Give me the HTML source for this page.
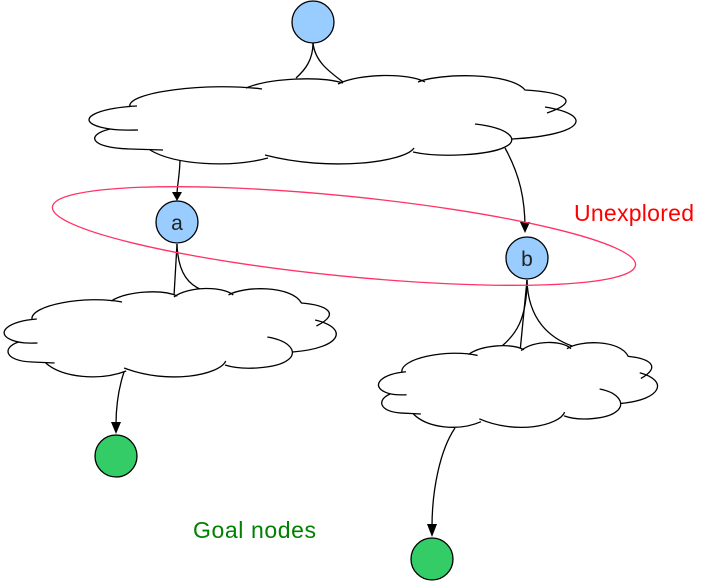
<!DOCTYPE html>
<html><head><style>
html,body{margin:0;padding:0;background:#fff;width:707px;height:582px;overflow:hidden}
svg{display:block}
text{font-family:"Liberation Sans",sans-serif}
</style></head><body>
<svg width="707" height="582" viewBox="0 0 707 582" xmlns="http://www.w3.org/2000/svg">
<defs>
<g id="cloud">
<path fill="#fff" stroke="none" d="M137,106 C125,92 210,82 262,89 C270,78 320,76 343,83 C360,73 410,73 425,82 C440,73 510,72 525,90 C560,92 585,100 547,113 C595,115 585,135 512,139 C520,140 505,150 413,152 C405,162 330,172 265,155 C230,168 175,165 150,150 C120,152 85,143 100,130 C75,120 95,108 137,106 Z"/>
<g fill="none" stroke="#000" stroke-width="1.3">
<path vector-effect="non-scaling-stroke" d="M130,107 C125,92 210,82 262,89"/>
<path vector-effect="non-scaling-stroke" d="M246,88 C270,78 320,76 343,83"/>
<path vector-effect="non-scaling-stroke" d="M338,84 C360,73 410,73 425,82"/>
<path vector-effect="non-scaling-stroke" d="M418,82 C440,73 510,72 525,90 C560,92 585,100 547,113"/>
<path vector-effect="non-scaling-stroke" d="M545,107 C595,115 585,135 512,139"/>
<path vector-effect="non-scaling-stroke" d="M475,124 C510,128 520,140 505,147 C490,155 440,158 413,152"/>
<path vector-effect="non-scaling-stroke" d="M414,148 C405,162 330,172 265,155"/>
<path vector-effect="non-scaling-stroke" d="M268,158 C230,168 175,165 150,150"/>
<path vector-effect="non-scaling-stroke" d="M137,106 C95,108 75,120 100,127 C115,131 130,130 138,130"/>
<path vector-effect="non-scaling-stroke" d="M110,129 C85,135 90,148 130,149 L163,150"/>
</g>
</g>
</defs>

<g fill="none" stroke="#000" stroke-width="1.3">
<path d="M313,43 C313,60 305,70 296,78"/>
<path d="M313,43 C315,62 330,72 343,82"/>
<path d="M180,158 C180,175 177,185 177,195"/>
<path d="M505,148 C520,175 525,200 525,228"/>
<path d="M177,244 L174,296"/>
<path d="M177,244 C178,275 190,285 202,290"/>
<path d="M527,280 C527,320 515,335 502,346"/>
<path d="M527,280 L520,352"/>
<path d="M527,280 C528,320 550,338 572,346"/>
<path d="M124,372 C118,390 116,410 116,425"/>
<path d="M455,428 C440,450 432,490 432,527"/>
</g>
<g fill="#000">
<path d="M172,192 L182,192 L177,201 Z"/>
<path d="M520,222 L530,222 L525,233 Z"/>
<path d="M111,422 L121,422 L116,434 Z"/>
<path d="M427,524 L437,524 L432,537 Z"/>
</g>

<use href="#cloud"/>
<use href="#cloud" transform="translate(0,288) scale(0.682,1) translate(-83,-75)"/>
<use href="#cloud" transform="translate(375,342) scale(0.573,0.96) translate(-83,-75)"/>

<ellipse cx="344" cy="236" rx="293" ry="40" transform="rotate(5.7 344 236)" fill="none" stroke="#ff3366" stroke-width="1.3"/>

<circle cx="313" cy="22" r="21" fill="#99ccff" stroke="#000" stroke-width="1.3"/>
<circle cx="177" cy="222" r="21" fill="#99ccff" stroke="#000" stroke-width="1.3"/>
<text x="177" y="230" font-size="21" text-anchor="middle" fill="#222">a</text>
<circle cx="527" cy="258" r="21" fill="#99ccff" stroke="#000" stroke-width="1.3"/>
<text x="527" y="266" font-size="21" text-anchor="middle" fill="#222">b</text>
<circle cx="116" cy="456" r="21" fill="#33cc66" stroke="#000" stroke-width="1.3"/>
<circle cx="432" cy="559" r="21" fill="#33cc66" stroke="#000" stroke-width="1.3"/>

<text x="574" y="221" font-size="23" textLength="120" fill="#ff0000">Unexplored</text>
<text x="193" y="538" font-size="23" textLength="123" fill="#008000">Goal nodes</text>
</svg>
</body></html>
